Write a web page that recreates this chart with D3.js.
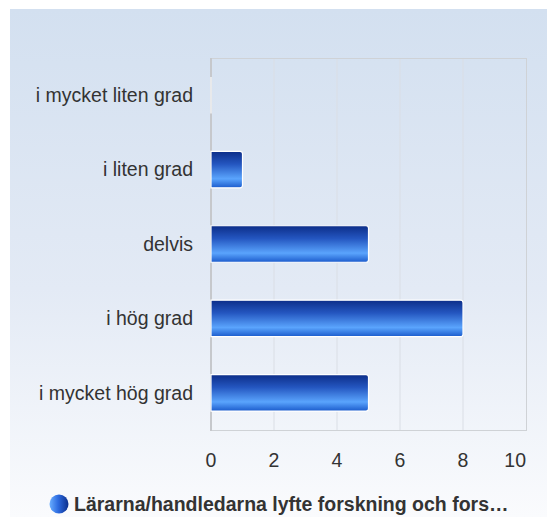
<!DOCTYPE html>
<html>
<head>
<meta charset="utf-8">
<script src="https://cdn.jsdelivr.net/npm/d3@7"></script>
<style>
  html, body { margin: 0; padding: 0; background: #fff; }
  svg { display: block; font-family: "Liberation Sans", Arial, sans-serif; }
</style>
</head>
<body>
<svg id="chart" width="547" height="517"></svg>
<script>
// Answers to the survey statement, counted per response option
const categories = ["i mycket liten grad", "i liten grad", "delvis", "i hög grad", "i mycket hög grad"];
const counts = [0, 1, 5, 8, 5];
const xTicks = [0, 2, 4, 6, 8, 10];
const seriesName = "Lärarna/handledarna lyfte forskning och fors…";

const svg = d3.select("#chart");
const defs = svg.append("defs");

// Panel background: pale blue fading to white
const bg = defs.append("linearGradient").attr("id", "bgGrad")
  .attr("x1", 0).attr("y1", 0).attr("x2", 0).attr("y2", 1);
bg.append("stop").attr("offset", "0%").attr("stop-color", "#d3e0f0");
bg.append("stop").attr("offset", "55%").attr("stop-color", "#e3eaf5");
bg.append("stop").attr("offset", "100%").attr("stop-color", "#fafbfd");

// Glossy bar fill
const barG = defs.append("linearGradient").attr("id", "barGrad")
  .attr("x1", 0).attr("y1", 0).attr("x2", 0).attr("y2", 1);
barG.append("stop").attr("offset", "0%").attr("stop-color", "#0c2d88");
barG.append("stop").attr("offset", "35%").attr("stop-color", "#2456c0");
barG.append("stop").attr("offset", "75%").attr("stop-color", "#5aa4fd");
barG.append("stop").attr("offset", "100%").attr("stop-color", "#1b5bcc");

// Legend bullet fill
const dotG = defs.append("linearGradient").attr("id", "dotGrad")
  .attr("x1", 0).attr("y1", 0).attr("x2", 1).attr("y2", 0);
dotG.append("stop").attr("offset", "0%").attr("stop-color", "#6aaeff");
dotG.append("stop").attr("offset", "45%").attr("stop-color", "#2d6be0");
dotG.append("stop").attr("offset", "100%").attr("stop-color", "#0b2f8c");

svg.append("rect")
  .attr("x", 10).attr("y", 9).attr("width", 537).attr("height", 508)
  .attr("fill", "url(#bgGrad)");

const plot = { left: 211, right: 526, top: 58, bottom: 430 };

const x = d3.scaleLinear().domain([0, 10]).range([plot.left, plot.right]);
const y = d3.scaleBand().domain(categories).range([plot.top, plot.bottom]).paddingInner(0.51).paddingOuter(0.255);

// Vertical gridlines
svg.append("g").selectAll("line")
  .data(xTicks.slice(1, -1))
  .join("line")
  .attr("x1", d => x(d)).attr("x2", d => x(d))
  .attr("y1", plot.top).attr("y2", plot.bottom)
  .attr("stroke", "#dadee5").attr("stroke-width", 1);

// Plot frame
svg.append("rect")
  .attr("x", plot.left + 0.5).attr("y", plot.top + 0.5)
  .attr("width", plot.right - plot.left).attr("height", plot.bottom - plot.top)
  .attr("fill", "none").attr("stroke", "#cfd2d6").attr("stroke-width", 1);

// Category axis line
svg.append("line")
  .attr("x1", plot.left).attr("x2", plot.left)
  .attr("y1", plot.top).attr("y2", plot.bottom + 1)
  .attr("stroke", "#c6c8cc").attr("stroke-width", 2);

// Bars
svg.append("g").selectAll("path")
  .data(categories.map((c, i) => ({ c, v: counts[i] })))
  .join("path")
  .attr("d", d => {
    const x0 = x(0), x1 = x(d.v), y0 = y(d.c), h = y.bandwidth();
    const r = Math.min(2.5, (x1 - x0) / 2);
    return `M${x0},${y0} H${x1 - r} Q${x1},${y0} ${x1},${y0 + r} V${y0 + h - r} Q${x1},${y0 + h} ${x1 - r},${y0 + h} H${x0} Z`;
  })
  .attr("fill", "url(#barGrad)")
  .attr("stroke", "#ffffff").attr("stroke-width", 1.2);

// Category labels
svg.append("g").selectAll("text")
  .data(categories)
  .join("text")
  .attr("x", 193)
  .attr("y", d => y(d) + y.bandwidth() / 2)
  .attr("dy", "0.35em")
  .attr("text-anchor", "end")
  .attr("font-size", 19.5)
  .attr("fill", "#333")
  .text(d => d);

// Value axis labels
svg.append("g").selectAll("text")
  .data(xTicks)
  .join("text")
  .attr("x", d => x(d))
  .attr("y", 460)
  .attr("dy", "0.35em")
  .attr("text-anchor", (d, i) => i === xTicks.length - 1 ? "end" : "middle")
  .attr("font-size", 19.5)
  .attr("fill", "#333")
  .text(d => d3.format("d")(d));

// Legend
svg.append("circle")
  .attr("cx", 59).attr("cy", 504).attr("r", 9.5)
  .attr("fill", "url(#dotGrad)");
svg.append("text")
  .attr("x", 74).attr("y", 504)
  .attr("dy", "0.35em")
  .attr("font-size", 19.5)
  .attr("font-weight", "bold")
  .attr("fill", "#333")
  .text(seriesName);
</script>
</body>
</html>
